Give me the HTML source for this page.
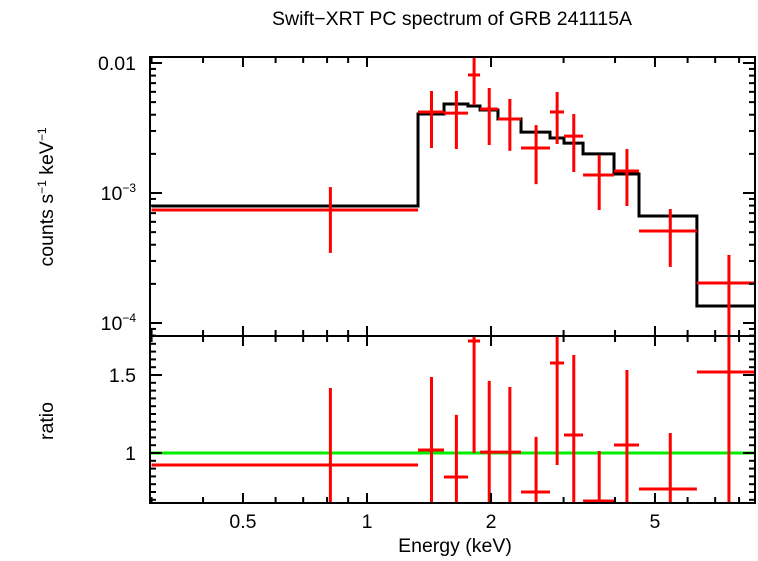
<!DOCTYPE html>
<html><head><meta charset="utf-8"><style>
body{margin:0;background:#fff;}
svg text{font-family:"Liberation Sans",Arial,sans-serif;fill:#000;}
</style></head><body>
<svg id="chart" width="758" height="556" viewBox="0 0 758 556" xmlns="http://www.w3.org/2000/svg">
<defs>
<clipPath id="ctop"><rect x="150" y="57" width="605" height="279"/></clipPath>
<clipPath id="cbot"><rect x="150" y="336" width="605" height="167"/></clipPath>
</defs>
<text x="452" y="25" font-size="19.5" text-anchor="middle">Swift−XRT PC spectrum of GRB 241115A</text>
<text transform="translate(53,197) rotate(-90)" font-size="19.5" text-anchor="middle">counts s<tspan font-size="12" dy="-7">−1</tspan><tspan dy="7"> keV</tspan><tspan font-size="12" dy="-7">−1</tspan></text>
<text transform="translate(53,421) rotate(-90)" font-size="19.5" text-anchor="middle">ratio</text>
<text x="455" y="552" font-size="19.5" text-anchor="middle">Energy (keV)</text>
<g id="gtop" clip-path="url(#ctop)"></g>
<g id="gbot" clip-path="url(#cbot)"></g>
<g id="axes"></g>
</svg>
<script>
const edges=[0.3,1.33,1.538,1.758,1.881,2.079,2.365,2.781,3.007,3.345,3.977,4.573,6.32,8.8];
const counts=[7.4e-4,4.2e-3,4.12e-3,8.09e-3,4.43e-3,3.71e-3,2.22e-3,4.2e-3,2.74e-3,1.375e-3,1.476e-3,5.1e-4,2.03e-4];
const countsLo=[3.46e-4,2.22e-3,2.18e-3,4.75e-3,2.34e-3,2.11e-3,1.17e-3,2.38e-3,1.45e-3,7.4e-4,7.94e-4,2.7e-4,7.4e-5];
const countsHi=[1.11e-3,6.09e-3,6.09e-3,1.15e-2,6.42e-3,5.29e-3,3.33e-3,5.98e-3,4.05e-3,1.96e-3,2.18e-3,7.53e-4,3.34e-4];
const model=[7.94e-4,4.05e-3,4.84e-3,4.67e-3,4.35e-3,3.71e-3,2.94e-3,2.65e-3,2.42e-3,2.0e-3,1.40e-3,6.65e-4,1.35e-4];
const ratio=[0.923,1.019,0.846,1.718,1.006,1.006,0.75,1.577,1.115,0.692,1.051,0.769,1.519];
const ratioLo=[0.6,0.6,0.6,1.0,0.6,0.6,0.6,0.923,0.6,0.6,0.6,0.6,0.6];
const ratioHi=[1.417,1.487,1.244,1.8,1.462,1.423,1.103,1.8,1.628,1.013,1.532,1.128,1.8];
const xTicks=[0.5,1,2,5];
const xTickLabels=["0.5","1","2","5"];

const NS="http://www.w3.org/2000/svg";
const X=e=>367+412*Math.log10(e);
const YT=v=>63+130*(-2-Math.log10(v));
const YB=r=>453-(r-1)*156;
function mk(tag,attrs,parent){const el=document.createElementNS(NS,tag);for(const k in attrs)el.setAttribute(k,attrs[k]);parent.appendChild(el);return el;}
const gt=document.getElementById('gtop'),gb=document.getElementById('gbot'),ax=document.getElementById('axes');

let d="";
for(let i=0;i<model.length;i++){const y=YT(model[i]);d+=(i?"L":"M")+X(edges[i])+","+y+"L"+X(edges[i+1])+","+y;}
const mp=mk('path',{d:d,fill:'none',stroke:'#000','stroke-width':3},gt);


for(let i=0;i<counts.length;i++){
 const xc=X((edges[i]+edges[i+1])/2);
 const g=mk('g',{stroke:'#f00','stroke-width':3},gt);
 
 
 mk('line',{x1:X(edges[i]),x2:X(edges[i+1]),y1:YT(counts[i]),y2:YT(counts[i])},g);
 mk('line',{x1:xc,x2:xc,y1:YT(countsLo[i]),y2:YT(countsHi[i])},g);
}
const gl=mk('line',{x1:150,x2:755,y1:YB(1),y2:YB(1),stroke:'#0e0','stroke-width':3},gb);


for(let i=0;i<ratio.length;i++){
 const xc=X((edges[i]+edges[i+1])/2);
 const g=mk('g',{stroke:'#f00','stroke-width':3},gb);
 
 
 mk('line',{x1:X(edges[i]),x2:X(edges[i+1]),y1:YB(ratio[i]),y2:YB(ratio[i])},g);
 mk('line',{x1:xc,x2:xc,y1:YB(ratioLo[i]),y2:YB(ratioHi[i])},g);
}
const f1=mk('rect',{x:150,y:57,width:605,height:279,fill:'none',stroke:'#000','stroke-width':2},ax);


const f2=mk('rect',{x:150,y:336,width:605,height:167,fill:'none',stroke:'#000','stroke-width':2},ax);


function tick(x1,y1,x2,y2){mk('line',{x1:x1,y1:y1,x2:x2,y2:y2,stroke:'#000','stroke-width':2},ax);}
for(let dec=0.1;dec<=10;dec*=10){for(let m=1;m<10;m++){const e=m*dec;if(e<0.3||e>8.8)continue;const x=X(e);const major=xTicks.some(t=>Math.abs(t-e)<1e-6);const L=major?10:6;
 tick(x,57,x,57+L);tick(x,336,x,336-L);tick(x,336,x,336+L);tick(x,503,x,503-L);}}
xTicks.forEach((t,i)=>{const tx=mk('text',{x:X(t),y:528,'font-size':19.5,'text-anchor':'middle'},ax);tx.textContent=xTickLabels[i];
 });
for(let p=-5;p<=-2;p++){for(let m=1;m<10;m++){const v=m*Math.pow(10,p);const y=YT(v);if(y<57||y>336)continue;const L=m==1?12:6;tick(150,y,150+L,y);tick(755,y,755-L,y);}}
[[0.01,"0.01",""],[1e-3,"10","−3"],[1e-4,"10","−4"]].forEach((a,i)=>{const tx=mk('text',{x:136,y:YT(a[0])+7,'font-size':19.5,'text-anchor':'end'},ax);
 
 if(a[2]){tx.innerHTML=a[1]+'<tspan font-size="12" dy="-8">'+a[2]+'</tspan>';}else tx.textContent=a[1];});
for(let r=0.7;r<=1.75;r+=0.05){const y=YB(r);const major=Math.abs(r-1)<1e-6||Math.abs(r-1.5)<1e-6;const L=major?12:6;tick(150,y,150+L,y);tick(755,y,755-L,y);}
[[1.5,"1.5"],[1,"1"]].forEach(a=>{const tx=mk('text',{x:136,y:YB(a[0])+7,'font-size':19.5,'text-anchor':'end'},ax);tx.textContent=a[1];
 });
</script>
</body></html>
